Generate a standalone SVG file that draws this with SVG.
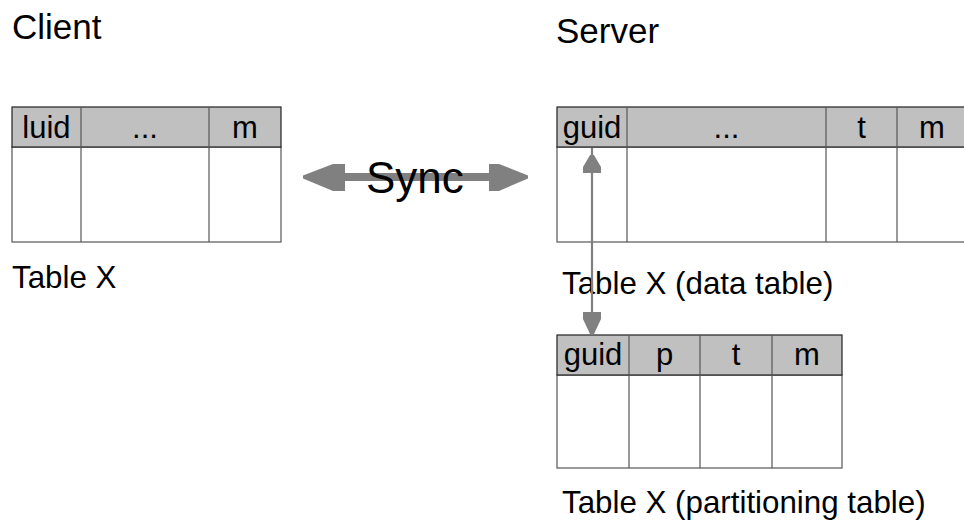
<svg xmlns="http://www.w3.org/2000/svg" width="964" height="526" viewBox="0 0 964 526">
<style>
text{font-family:"Liberation Sans",Arial,sans-serif;fill:#000}
.title{font-size:35px}
.cap{font-size:31.3px}
.hd{font-size:31px;text-anchor:middle}
.hdr{fill:#c0c0c0;stroke:#222;stroke-width:1.2}
.body{fill:#fff;stroke:#555;stroke-width:1.2}
.div{stroke:#555;stroke-width:1.2}
.arrow{fill:#808080}
.conn{stroke:#808080;stroke-width:2.2;fill:none}
</style>
<rect width="964" height="526" fill="#fff"/>
<g id="client-title"><text class="title" x="12" y="39">Client</text></g>
<g id="server-title"><text class="title" x="556" y="43">Server</text></g>
<g id="client-table">
<rect class="body" x="12" y="147" width="269" height="95"/>
<rect class="hdr" x="12" y="107" width="269" height="40"/>
<line class="div" x1="81" y1="107" x2="81" y2="242"/>
<line class="div" x1="209" y1="107" x2="209" y2="242"/>
<text class="hd" x="46.5" y="138">luid</text>
<text class="hd" x="145" y="138">...</text>
<text class="hd" x="245" y="138">m</text>
<text class="cap" x="12" y="288">Table X</text>
</g>
<g id="server-table">
<rect class="body" x="557" y="147" width="410" height="95"/>
<rect class="hdr" x="557" y="107" width="410" height="40"/>
<line class="div" x1="627" y1="107" x2="627" y2="242"/>
<line class="div" x1="826" y1="107" x2="826" y2="242"/>
<line class="div" x1="897" y1="107" x2="897" y2="242"/>
<text class="hd" x="592" y="138">guid</text>
<text class="hd" x="726.5" y="138">...</text>
<text class="hd" x="861.5" y="138">t</text>
<text class="hd" x="932" y="138">m</text>
<text class="cap" x="562" y="294">Table X (data table)</text>
</g>
<g id="partition-table">
<rect class="body" x="557" y="375" width="285" height="93"/>
<rect class="hdr" x="557" y="335" width="285" height="40"/>
<line class="div" x1="629" y1="335" x2="629" y2="468"/>
<line class="div" x1="700" y1="335" x2="700" y2="468"/>
<line class="div" x1="772" y1="335" x2="772" y2="468"/>
<text class="hd" x="593" y="365">guid</text>
<text class="hd" x="664.5" y="365">p</text>
<text class="hd" x="736" y="365">t</text>
<text class="hd" x="807" y="365">m</text>
<text class="cap" x="562" y="513">Table X (partitioning table)</text>
</g>
<g id="connectors">
<polygon class="arrow" points="303,175.5 333,164 345,164 345,173 489,173 489,164 499,164 528,175.5 528,178.5 499,191 489,191 489,181 345,181 345,191 333,191 303,178.5"/>
<text x="366" y="193" style="font-size:44px">Sync</text>
<line class="conn" x1="592" y1="148" x2="592" y2="334"/>
<polygon class="arrow" points="590,155 594,155 601,167 601,173 583,173 583,167"/>
<polygon class="arrow" points="583,312 601,312 601,319 594,334 590,334 583,319"/>
</g>
</svg>
